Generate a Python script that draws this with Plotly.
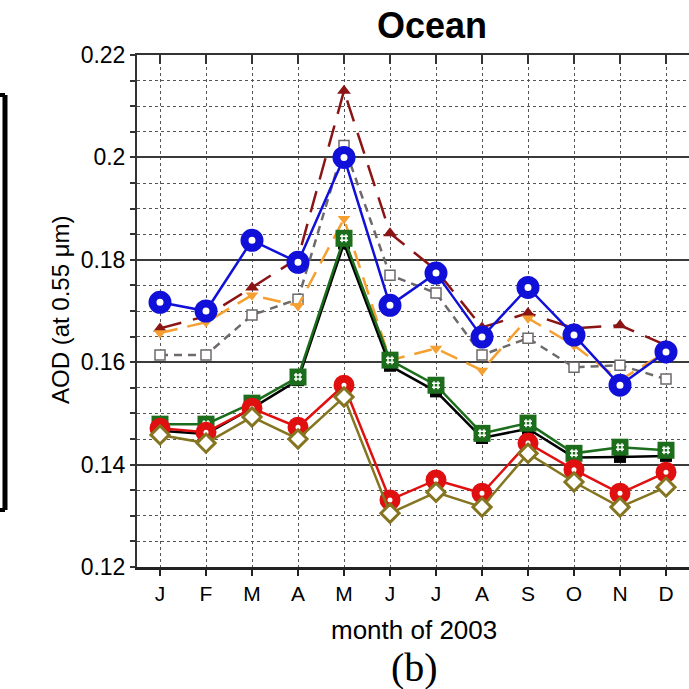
import plotly.graph_objects as go

months = ["J", "F", "M", "A", "M", "J", "J", "A", "S", "O", "N", "D"]
month_idx = list(range(1, 13))

blue = [0.1717, 0.1700, 0.1838, 0.1795, 0.2000, 0.1711, 0.1774, 0.1649, 0.1746, 0.1653, 0.1555, 0.1620]
maroon = [0.1666, 0.1690, 0.1746, 0.1803, 0.2130, 0.1852, 0.1780, 0.1668, 0.1696, 0.1666, 0.1672, 0.1633]
orange = [0.1657, 0.1678, 0.1731, 0.1710, 0.1880, 0.1604, 0.1627, 0.1584, 0.1686, 0.1633, 0.1565, 0.1620]
gray = [0.1614, 0.1614, 0.1692, 0.1723, 0.2023, 0.1770, 0.1735, 0.1614, 0.1647, 0.1590, 0.1594, 0.1567]
green = [0.1479, 0.1479, 0.1520, 0.1571, 0.1842, 0.1604, 0.1555, 0.1461, 0.1481, 0.1422, 0.1434, 0.1428]
black = [0.1466, 0.1460, 0.1510, 0.1565, 0.1832, 0.1593, 0.1543, 0.1452, 0.1470, 0.1414, 0.1415, 0.1417]
red = [0.1471, 0.1463, 0.1510, 0.1473, 0.1555, 0.1331, 0.1370, 0.1344, 0.1442, 0.1390, 0.1344, 0.1385]
olive = [0.1458, 0.1442, 0.1493, 0.1450, 0.1532, 0.1305, 0.1346, 0.1317, 0.1422, 0.1366, 0.1317, 0.1356]

ytick_vals = [0.12, 0.14, 0.16, 0.18, 0.20, 0.22]
ytick_text = ["0.12", "0.14", "0.16", "0.18", "0.2", "0.22"]

W, H = 689, 689
L, R, T, B = 137, 0, 55, 122
pw, ph = W - L - R, H - T - B


def px(x):
    return (x - L) / pw


def py(y):
    return (H - B - y) / ph


fig = go.Figure()

fig.add_trace(go.Scatter(x=month_idx, y=gray, mode="lines+markers",
                         line=dict(color="#6f6a6a", width=2.5, dash="8px,6px"),
                         marker=dict(symbol="square", size=10, color="white",
                                     line=dict(color="#6f6a6a", width=1.5))))
fig.add_trace(go.Scatter(x=month_idx, y=maroon, mode="lines+markers",
                         line=dict(color="#8b1414", width=2.5, dash="22px,12px"),
                         marker=dict(symbol="triangle-up", size=12, color="#8b1414")))
fig.add_trace(go.Scatter(x=month_idx, y=orange, mode="lines+markers",
                         line=dict(color="#f5a030", width=2.5, dash="18px,10px"),
                         marker=dict(symbol="triangle-down", size=11, color="#f5a030")))
fig.add_trace(go.Scatter(x=month_idx, y=blue, mode="lines+markers",
                         line=dict(color="#1010d8", width=2.5),
                         marker=dict(symbol="circle", size=15, color="white",
                                     line=dict(color="#1010d8", width=8))))
fig.add_trace(go.Scatter(x=month_idx, y=black, mode="lines+markers",
                         line=dict(color="black", width=2.5),
                         marker=dict(symbol="square", size=12, color="black")))
fig.add_trace(go.Scatter(x=month_idx, y=green, mode="lines+markers",
                         line=dict(color="#1c6e1c", width=2.5),
                         marker=dict(symbol="square", size=17, color="#1c6e1c")))
fig.add_trace(go.Scatter(x=month_idx, y=green, mode="markers",
                         marker=dict(symbol="hash-open", size=8, color="white",
                                     line=dict(color="white", width=1.5))))
fig.add_trace(go.Scatter(x=month_idx, y=red, mode="lines+markers",
                         line=dict(color="#e01010", width=2.5),
                         marker=dict(symbol="circle", size=13, color="white",
                                     line=dict(color="#e01010", width=8))))
fig.add_trace(go.Scatter(x=month_idx, y=olive, mode="lines+markers",
                         line=dict(color="#857520", width=2.5),
                         marker=dict(symbol="diamond", size=14, color="white",
                                     line=dict(color="#857520", width=3))))

fig.update_layout(
    width=W, height=H,
    margin=dict(l=L, r=R, t=T, b=B),
    plot_bgcolor="white", paper_bgcolor="white",
    showlegend=False,
    font=dict(family="Liberation Sans, Arial, sans-serif", color="black"),
    xaxis=dict(range=[0.5, 12.5], tickmode="array", tickvals=month_idx, ticktext=months,
               showgrid=True, gridcolor="#555555", griddash="dot", gridwidth=1,
               showline=True, linecolor="#222222", linewidth=3,
               ticks="outside", ticklen=6, tickwidth=2, tickcolor="#222222",
               tickfont=dict(size=21), zeroline=False),
    xaxis2=dict(range=[0.5, 12.5], overlaying="x", side="top", tickmode="array",
                tickvals=month_idx, showticklabels=False, showgrid=False,
                showline=True, linecolor="#333333", linewidth=2,
                ticks="inside", ticklen=9, tickwidth=2, tickcolor="#333333", zeroline=False),
    yaxis=dict(range=[0.12, 0.22], tickmode="array", tickvals=ytick_vals, ticktext=ytick_text,
               showgrid=True, gridcolor="#3a3a3a", gridwidth=1.5,
               showline=True, linecolor="#333333", linewidth=2,
               ticks="outside", ticklen=5, tickwidth=1.5, tickcolor="#333333",
               tickfont=dict(size=23), zeroline=False,
               minor=dict(dtick=0.005, tick0=0.12, showgrid=True, gridcolor="#555555",
                          griddash="dot", gridwidth=1, ticks="outside", ticklen=5,
                          tickcolor="#333333")),
)

# invisible trace to activate the top axis
fig.add_trace(go.Scatter(x=[month_idx[0]], y=[blue[0]], xaxis="x2", mode="markers",
                         marker=dict(opacity=0), hoverinfo="skip"))

fig.add_annotation(text="<b>Ocean</b>", x=px(432), y=py(25), xref="paper", yref="paper",
                   showarrow=False, font=dict(size=36, family="Liberation Sans, Arial"),
                   xanchor="center", yanchor="middle")
fig.add_annotation(text="AOD (at 0.55 \u03bcm)", x=px(60), y=py(310), xref="paper", yref="paper",
                   showarrow=False, textangle=-90, font=dict(size=24),
                   xanchor="center", yanchor="middle")
fig.add_annotation(text="month of 2003", x=px(414), y=py(630), xref="paper", yref="paper",
                   showarrow=False, font=dict(size=26), xanchor="center", yanchor="middle")
fig.add_annotation(text="(b)", x=px(414), y=py(667), xref="paper", yref="paper",
                   showarrow=False, font=dict(size=40, family="Liberation Serif, Times New Roman, serif"),
                   xanchor="center", yanchor="middle")

# leftover frame of a neighbouring panel at the far left
fig.add_shape(type="line", xref="paper", yref="paper", x0=px(5), x1=px(5), y0=py(95), y1=py(510),
              line=dict(color="black", width=5))
fig.add_shape(type="line", xref="paper", yref="paper", x0=px(-5), x1=px(5), y0=py(95), y1=py(95),
              line=dict(color="black", width=4))
fig.add_shape(type="line", xref="paper", yref="paper", x0=px(-5), x1=px(5), y0=py(510), y1=py(510),
              line=dict(color="black", width=4))

fig.write_html("out.html")
